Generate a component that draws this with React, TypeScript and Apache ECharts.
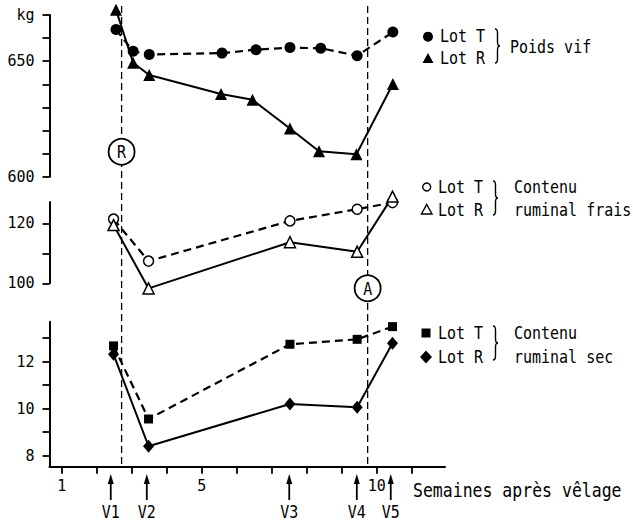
import React, { useEffect, useRef } from 'react';
import * as echarts from 'echarts';

// ---- data ----
const weeksPoidsT = [2.55, 3.04, 3.5, 5.58, 6.55, 7.52, 8.4, 9.44, 10.46];
const weeksPoidsR = [2.55, 3.04, 3.5, 5.55, 6.45, 7.52, 8.35, 9.42, 10.46];
const poidsT = [663.7, 654.3, 652.9, 653.5, 655.0, 655.9, 655.6, 652.4, 662.6];
const poidsR = [672.3, 649.3, 644.0, 635.8, 633.3, 620.9, 611.0, 609.7, 640.1];

const weeksRumen = [2.48, 3.48, 7.52, 9.44, 10.45];
const fraisT = [121.4, 107.4, 120.8, 124.7, 126.9];
const fraisR = [119.4, 98.3, 113.7, 110.5, 128.9];
const secT = [12.67, 9.56, 12.74, 12.95, 13.49];
const secR = [12.31, 8.4, 10.2, 10.06, 12.78];

const weekTicks = [1, 2, 3, 4, 5, 6, 7, 8, 9, 10, 11];
const weekLabels = [1, 5, 10];
const poidsTicks = [600, 610, 620, 630, 640, 650, 660, 670];
const poidsLabels = [600, 650, 670];
const fraisTicks = [100, 110, 120];
const fraisLabels = [100, 120];
const secTicks = [8, 9, 10, 11, 12, 13];
const secLabels = [8, 10, 12];

const visitNames = ['V1', 'V2', 'V3', 'V4', 'V5'];
const visitWeeks = [2.4, 3.43, 7.5, 9.43, 10.4];
const eventNames = ['R', 'A'];
const eventWeeks = [2.71, 9.74];

const xMin = 0.65, xMax = 11.95;
const secMin = 7.53, secMax = 13.7;

const MONO = '"DejaVu Sans Mono", monospace';
const BLACK = '#000';

echarts.graphic.registerShape(
  'brace',
  echarts.graphic.extendPath('M0,0 Q2.5,0 2.5,4 L2.5,13 Q2.5,17 5,17 Q2.5,17 2.5,21 L2.5,30 Q2.5,34 0,34', {})
);

function yAxisDef(grid: number, min: number, max: number, ticks: number[], labels: number[], fmt?: (v: number) => string) {
  return {
    type: 'value', gridIndex: grid, min, max,
    axisLine: { show: true, onZero: false, lineStyle: { color: BLACK, width: 2 } },
    axisTick: { show: true, length: 7, customValues: ticks, lineStyle: { color: BLACK, width: 1.8 } },
    axisLabel: {
      customValues: labels, color: BLACK, fontFamily: MONO, fontSize: 15, margin: 15,
      formatter: fmt || ((v: number) => String(v)),
    },
    splitLine: { show: false },
  };
}

function xAxisDef(grid: number, show: boolean) {
  return {
    type: 'value', gridIndex: grid, min: xMin, max: xMax, show,
    axisLine: { show: true, onZero: false, lineStyle: { color: BLACK, width: 2 } },
    axisTick: { show: true, length: 7, customValues: weekTicks, lineStyle: { color: BLACK, width: 1.8 } },
    axisLabel: { customValues: weekLabels, color: BLACK, fontFamily: MONO, fontSize: 15, margin: 12 },
    splitLine: { show: false },
  };
}

const dashT = { color: BLACK, width: 2.2, type: [8, 5] };
const solidR = { color: BLACK, width: 2 };

function pairs(xs: number[], ys: number[]) {
  return ys.map((y, i) => [xs[i], y]);
}

export default function App() {
  const ref = useRef<HTMLDivElement>(null);
  useEffect(() => {
    const el = ref.current!;
    const chart = echarts.init(el, null, { renderer: 'svg', width: 633, height: 522 });
    const option: any = {
      animation: false,
      backgroundColor: '#fff',
      grid: [
        { left: 49.5, width: 395.5, top: 15, height: 161.7, outerBoundsMode: 'none', containLabel: false },
        { left: 49.5, width: 395.5, top: 202, height: 81.3, outerBoundsMode: 'none', containLabel: false },
        { left: 49.5, width: 395.5, top: 321.7, height: 145, outerBoundsMode: 'none', containLabel: false },
      ],
      xAxis: [xAxisDef(0, false), xAxisDef(1, false), xAxisDef(2, true)],
      yAxis: [
        yAxisDef(0, 600, 670, poidsTicks, poidsLabels, (v: number) => (v === 670 ? 'kg' : String(v))),
        yAxisDef(1, 100, 127.1, fraisTicks, fraisLabels),
        yAxisDef(2, secMin, secMax, secTicks, secLabels),
      ],
      series: [
        { name: 'Poids T', type: 'line', xAxisIndex: 0, yAxisIndex: 0, data: pairs(weeksPoidsT, poidsT),
          symbol: 'circle', symbolSize: 11, itemStyle: { color: BLACK }, lineStyle: dashT, clip: false, silent: true },
        { name: 'Poids R', type: 'line', xAxisIndex: 0, yAxisIndex: 0, data: pairs(weeksPoidsR, poidsR),
          symbol: 'triangle', symbolSize: 12, itemStyle: { color: BLACK }, lineStyle: solidR, clip: false, silent: true },
        { name: 'Frais T', type: 'line', xAxisIndex: 1, yAxisIndex: 1, data: pairs(weeksRumen, fraisT),
          symbol: 'circle', symbolSize: 10, itemStyle: { color: '#fff', borderColor: BLACK, borderWidth: 1.5 },
          lineStyle: dashT, clip: false, silent: true, z: 3 },
        { name: 'Frais R', type: 'line', xAxisIndex: 1, yAxisIndex: 1, data: pairs(weeksRumen, fraisR),
          symbol: 'triangle', symbolSize: 11, itemStyle: { color: '#fff', borderColor: BLACK, borderWidth: 1.5 },
          lineStyle: solidR, clip: false, silent: true },
        { name: 'Sec T', type: 'line', xAxisIndex: 2, yAxisIndex: 2, data: pairs(weeksRumen, secT),
          symbol: 'rect', symbolSize: 9, itemStyle: { color: BLACK }, lineStyle: dashT, clip: false, silent: true },
        { name: 'Sec R', type: 'line', xAxisIndex: 2, yAxisIndex: 2, data: pairs(weeksRumen, secR),
          symbol: 'diamond', symbolSize: [11, 13], itemStyle: { color: BLACK }, lineStyle: solidR, clip: false, silent: true },
      ],
    };
    chart.setOption(option);

    const px = (w: number) => chart.convertToPixel({ xAxisIndex: 2 }, w) as number;
    const axisY = chart.convertToPixel({ yAxisIndex: 2 }, secMin) as number;

    const txt = (x: number, y: number, text: string, size = 15, align = 'left', sy = 1.2) => ({
      type: 'text', x, y, scaleY: sy, z: 20, silent: true,
      style: { text, fontFamily: MONO, fontSize: size, fill: BLACK, align, verticalAlign: 'middle' },
    });
    const brace = (x: number, y: number) => ({
      type: 'brace', x, y, z: 20, silent: true,
      style: { stroke: BLACK, fill: null, lineWidth: 1.4 },
    });

    const g: any[] = [];
    // event dashed lines + circled letters
    const eventY = [151.7, 288.3];
    eventWeeks.forEach((w, i) => {
      const x = px(w);
      g.push({ type: 'line', z: 0, silent: true, shape: { x1: x, y1: 6, x2: x, y2: axisY },
        style: { stroke: BLACK, lineWidth: 1.3, lineDash: [7, 4] } });
      g.push({ type: 'circle', z: 15, silent: true, shape: { cx: x, cy: eventY[i], r: 13 },
        style: { fill: '#fff', stroke: BLACK, lineWidth: 1.8 } });
      g.push(txt(x, eventY[i] + 0.5, eventNames[i], 15, 'center', 1.2));
    });
    // visit arrows
    visitWeeks.forEach((w, i) => {
      const x = px(w);
      g.push({ type: 'line', z: 10, silent: true, shape: { x1: x, y1: 500, x2: x, y2: 480 },
        style: { stroke: BLACK, lineWidth: 1.8 } });
      g.push({ type: 'polygon', z: 10, silent: true, shape: { points: [[x - 3, 484], [x + 3, 484], [x, 474]] },
        style: { fill: BLACK } });
      g.push(txt(x, 512, visitNames[i], 15, 'center'));
    });
    g.push(txt(413, 490, 'Semaines après vêlage', 16.5));

    // legend block 1
    g.push({ type: 'circle', z: 20, silent: true, shape: { cx: 428, cy: 36.7, r: 5 }, style: { fill: BLACK } });
    g.push({ type: 'polygon', z: 20, silent: true, shape: { points: [[422.5, 63], [433.5, 63], [428, 53]] }, style: { fill: BLACK } });
    g.push(txt(440, 36.5, 'Lot T'));
    g.push(txt(440, 58, 'Lot R'));
    g.push(brace(495, 29));
    g.push(txt(510, 47, 'Poids vif'));

    // legend block 2
    g.push({ type: 'circle', z: 20, silent: true, shape: { cx: 426.7, cy: 187, r: 4 }, style: { fill: '#fff', stroke: BLACK, lineWidth: 1.4 } });
    g.push({ type: 'polygon', z: 20, silent: true, shape: { points: [[421.5, 214], [432, 214], [426.7, 204.5]] }, style: { fill: '#fff', stroke: BLACK, lineWidth: 1.4 } });
    g.push(txt(438, 187, 'Lot T'));
    g.push(txt(438, 210, 'Lot R'));
    g.push(brace(493, 181));
    g.push(txt(514, 187, 'Contenu'));
    g.push(txt(514, 210, 'ruminal frais'));

    // legend block 3
    g.push({ type: 'rect', z: 20, silent: true, shape: { x: 421.5, y: 328.5, width: 9, height: 9 }, style: { fill: BLACK } });
    g.push({ type: 'polygon', z: 20, silent: true, shape: { points: [[426, 350.5], [432, 357], [426, 363.5], [420, 357]] }, style: { fill: BLACK } });
    g.push(txt(438, 333, 'Lot T'));
    g.push(txt(438, 357, 'Lot R'));
    g.push(brace(493, 326));
    g.push(txt(514, 333, 'Contenu'));
    g.push(txt(514, 357, 'ruminal sec'));

    chart.setOption({ graphic: g });
    return () => chart.dispose();
  }, []);
  return <div ref={ref} style={{ position: 'fixed', left: 0, top: 0, width: 633, height: 522 }} />;
}
